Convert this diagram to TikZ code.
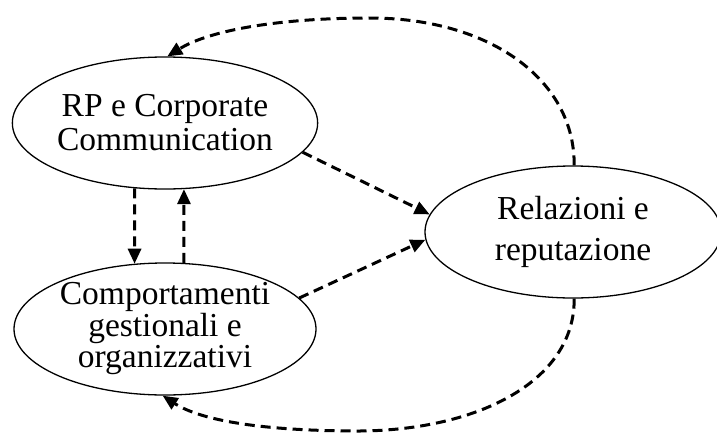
\documentclass[tikz,border=0pt]{standalone}
\usepackage{fontspec}
\setmainfont{Liberation Serif}
\usetikzlibrary{shapes.geometric,arrows.meta}
\tikzset{
  oval/.style={draw, ellipse, line width=1.3pt, inner sep=0pt, minimum width=302pt, minimum height=132pt, align=center},
  flow/.style={line width=3pt, dash pattern=on 10pt off 6pt, -{Triangle[length=15pt,width=13pt]}}
}
\begin{document}
\begin{tikzpicture}[x=1pt,y=-1pt]
\useasboundingbox (0,0) rectangle (717,434);
\node[oval, font=\fontsize{33.5}{34}\selectfont] (rp) at (165,123) {RP e Corporate\\Communication};
\node[oval, minimum width=296pt, font=\fontsize{33.5}{41}\selectfont] (rel) at (573,232) {Relazioni e\\reputazione};
\node[oval, font=\fontsize{33.5}{31.5}\selectfont] (comp) at (165,329) {Comportamenti\\gestionali e\\organizzativi};
\draw[flow] (rp.-12.4) -- (rel.173);
\draw[flow] (comp.13) -- (rel.183);
\draw[flow] (rp.-115.6) -- (comp.115.6);
\draw[flow] (comp.74.6) -- (rp.-74.6);
\draw[flow] (rel.89) .. controls (575,80) and (490,18) .. (370,18) .. controls (280,18) and (210,30) .. (rp.88);
\draw[flow] (rel.-89) .. controls (575,380) and (480,430) .. (360,431) .. controls (260,431) and (200,420) .. (comp.-92);
\end{tikzpicture}
\end{document}
